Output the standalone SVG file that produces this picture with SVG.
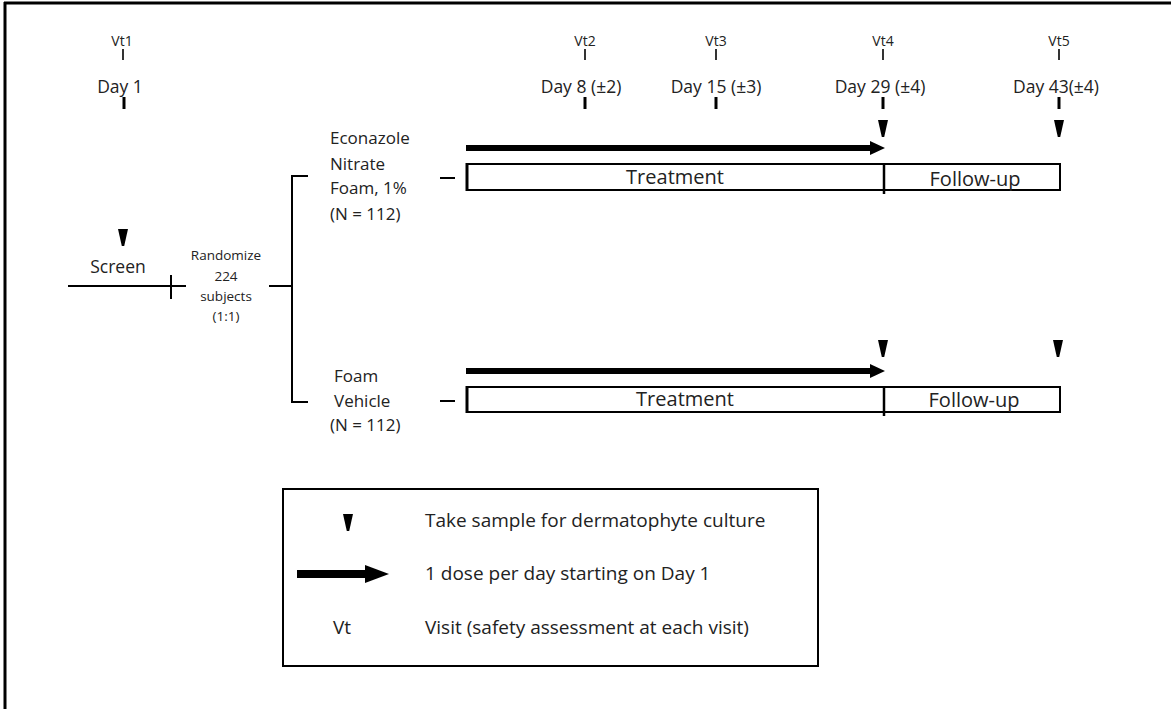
<svg xmlns="http://www.w3.org/2000/svg" width="1171" height="709" viewBox="0 0 1171 709">
<defs>
<style>
text{font-family:"Open Sans","Liberation Sans",Arial,sans-serif;fill:#222;}
.vt{font-size:14px;text-anchor:middle;}
.day{font-size:17.5px;text-anchor:middle;}
.arm{font-size:17px;}
.bar{font-size:20px;text-anchor:middle;}
.rnd{font-size:13.5px;text-anchor:middle;}
.leg{font-size:19px;}
.ln{stroke:#000;fill:none;stroke-width:2;}
.thin{stroke:#000;stroke-width:1.6;}
.thick{stroke:#000;stroke-width:3;}
.box{fill:#fff;stroke:#000;stroke-width:2;}
</style>
<polygon id="tri" points="-5,0 5,0 1.2,17 -1.2,17" fill="#000"/>
</defs>
<rect width="1171" height="709" fill="#fff"/>
<g id="frame">
<line x1="4" y1="3" x2="1171" y2="3" stroke="#000" stroke-width="3"/>
<line x1="5" y1="2" x2="5" y2="709" stroke="#000" stroke-width="3"/>
</g>
<g id="visits">
<text class="vt" x="122" y="46">Vt1</text>
<line class="thin" x1="123" y1="49" x2="123" y2="60"/>
<text class="day" x="120" y="93">Day 1</text>
<line class="thick" x1="124" y1="97" x2="124" y2="109"/>
<text class="vt" x="585" y="46">Vt2</text>
<line class="thin" x1="585" y1="49" x2="585" y2="60"/>
<text class="day" x="581" y="93">Day 8 (±2)</text>
<line class="thick" x1="585" y1="97" x2="585" y2="109"/>
<text class="vt" x="716" y="46">Vt3</text>
<line class="thin" x1="716" y1="49" x2="716" y2="60"/>
<text class="day" x="716" y="93">Day 15 (±3)</text>
<line class="thick" x1="716" y1="97" x2="716" y2="109"/>
<text class="vt" x="883" y="46">Vt4</text>
<line class="thin" x1="883" y1="49" x2="883" y2="60"/>
<text class="day" x="880" y="93">Day 29 (±4)</text>
<line class="thick" x1="883" y1="97" x2="883" y2="109"/>
<text class="vt" x="1059" y="46">Vt5</text>
<line class="thin" x1="1059" y1="49" x2="1059" y2="60"/>
<text class="day" x="1056" y="93">Day 43(±4)</text>
<line class="thick" x1="1059" y1="97" x2="1059" y2="109"/>
</g>
<g id="screen">
<use href="#tri" x="123" y="229"/>
<text class="day" x="118" y="273">Screen</text>
</g>
<g id="randomize">
<text class="rnd" x="226" y="260">Randomize</text>
<text class="rnd" x="226" y="281">224</text>
<text class="rnd" x="226" y="301">subjects</text>
<text class="rnd" x="226" y="321">(1:1)</text>
</g>
<g id="arm-active">
<text class="arm" x="330" y="144">Econazole</text>
<text class="arm" x="330" y="170">Nitrate</text>
<text class="arm" x="330" y="194">Foam, 1%</text>
<text class="arm" x="330" y="220">(N = 112)</text>
<rect class="box" x="467" y="164" width="593" height="26"/>
<line x1="467" y1="163" x2="467" y2="191" stroke="#000" stroke-width="3"/>
<line x1="884" y1="163" x2="884" y2="194" stroke="#000" stroke-width="2.5"/>
<text class="bar" x="675" y="184">Treatment</text>
<text class="bar" x="975" y="186">Follow-up</text>
<use href="#tri" x="883" y="120"/>
<use href="#tri" x="1059" y="120"/>
<line x1="466" y1="148" x2="873" y2="148" stroke="#000" stroke-width="6"/>
<polygon points="870,141 885,148 870,155" fill="#000"/>
</g>
<g id="arm-vehicle">
<text class="arm" x="334" y="382">Foam</text>
<text class="arm" x="334" y="407">Vehicle</text>
<text class="arm" x="330" y="431">(N = 112)</text>
<rect class="box" x="467" y="387" width="593" height="25"/>
<line x1="467" y1="386" x2="467" y2="413" stroke="#000" stroke-width="3"/>
<line x1="884" y1="386" x2="884" y2="416" stroke="#000" stroke-width="2.5"/>
<text class="bar" x="685" y="406">Treatment</text>
<text class="bar" x="974" y="407">Follow-up</text>
<use href="#tri" x="883" y="340"/>
<use href="#tri" x="1058" y="340"/>
<line x1="466" y1="371" x2="873" y2="371" stroke="#000" stroke-width="6"/>
<polygon points="870,364 885,371 870,378" fill="#000"/>
</g>
<g id="connectors">
<line class="ln" x1="68" y1="286" x2="186" y2="286"/>
<line class="ln" x1="171" y1="275" x2="171" y2="299"/>
<line class="ln" x1="269" y1="286" x2="292" y2="286"/>
<line class="ln" x1="292" y1="175" x2="292" y2="403"/>
<line class="ln" x1="291" y1="176" x2="308" y2="176"/>
<line class="ln" x1="291" y1="402" x2="308" y2="402"/>
<line class="ln" x1="440" y1="178" x2="455" y2="178"/>
<line class="ln" x1="440" y1="401" x2="455" y2="401"/>
</g>
<g id="legend">
<rect x="283" y="489" width="535" height="177" fill="#fff" stroke="#000" stroke-width="2"/>
<use href="#tri" x="348" y="514"/>
<text class="leg" x="425" y="527">Take sample for dermatophyte culture</text>
<line x1="297" y1="574" x2="368" y2="574" stroke="#000" stroke-width="8"/>
<polygon points="365,565 389,574 365,583" fill="#000"/>
<text class="leg" x="425" y="580">1 dose per day starting on Day 1</text>
<text class="leg" x="342" y="634" text-anchor="middle">Vt</text>
<text class="leg" x="425" y="634">Visit (safety assessment at each visit)</text>
</g>
</svg>
